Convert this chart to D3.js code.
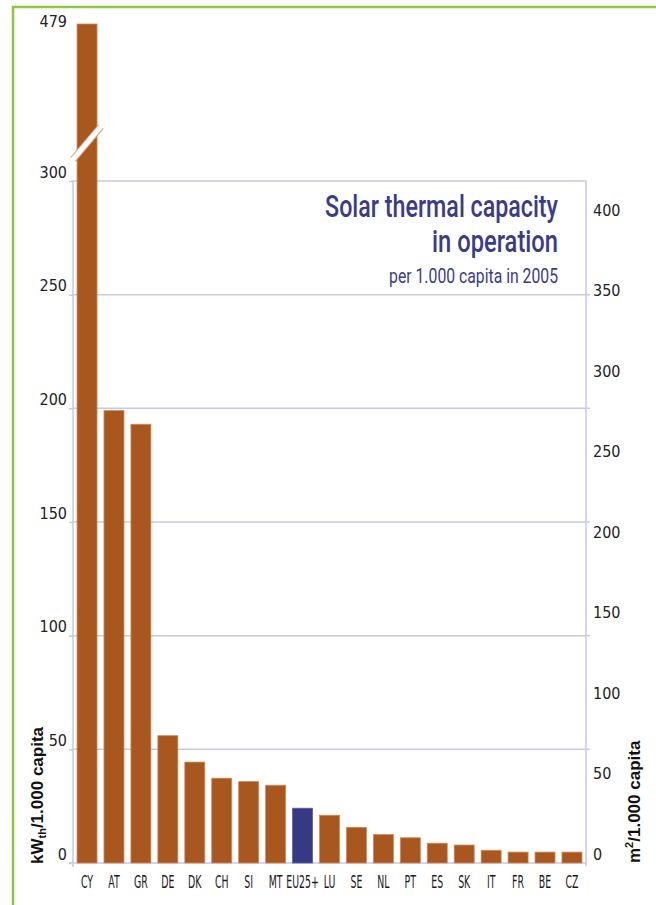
<!DOCTYPE html>
<html>
<head>
<meta charset="utf-8">
<script src="https://cdn.jsdelivr.net/npm/d3@7"></script>
<style>
  html, body { margin: 0; padding: 0; background: #fff; }
  svg { display: block; }
  .cond { font-family: "Liberation Sans Narrow", "DejaVu Sans Condensed", "Arial Narrow", sans-serif; }
  .ttl { font-family: Roboto, "DejaVu Sans Condensed", sans-serif; font-weight: 500; }
  .sub { font-family: Roboto, "DejaVu Sans Condensed", sans-serif; font-weight: 400; }
  .bold { font-family: "Liberation Sans", Arial, sans-serif; font-weight: bold; }
</style>
</head>
<body>
<svg id="chart" width="656" height="905"></svg>
<script>
// ---- data ----
const categories = ["CY","AT","GR","DE","DK","CH","SI","MT","EU25+","LU","SE","NL","PT","ES","SK","IT","FR","BE","CZ"];
const kwValues   = [479, 199, 193, 56, 44.4, 37.3, 35.8, 34.2, 24.1, 21.0, 15.7, 12.5, 11.1, 8.7, 7.9, 5.6, 4.8, 4.8, 4.8];
const highlighted = ["EU25+"];
const leftTicks  = [0, 50, 100, 150, 200, 250, 300];
const rightTicks = [0, 50, 100, 150, 200, 250, 300, 350, 400];
const topLabel   = 479;
const titleLines = ["Solar thermal capacity", "in operation"];
const subtitle   = "per 1.000 capita in 2005";
const m2ToKw = 0.708;   // right axis conversion (m² -> kWth)
const breakAt = 344;    // position of the axis break drawn on the CY bar

// ---- layout ----
const svg = d3.select("#chart");
const L = 73, R = 586, T = 181, B = 863, TOP = 24;
const barColor = "#A8571F", hiColor = "#363A82", gridColor = "#C9C9E3", textColor = "#222";

const x = d3.scaleBand().domain(categories).range([L, R]).paddingInner(0.258).paddingOuter(0.15);
const y = d3.scaleLinear().domain([0, 300, topLabel]).range([B, T, TOP]);
const y2 = d3.scaleLinear().domain([0, 400]).range([B, y(400 * m2ToKw)]);

// green frame
svg.append("path").attr("d", "M13,905 V7 H656").attr("fill", "none")
  .attr("stroke", "#8DC63F").attr("stroke-width", 2.5);

// gridlines
svg.append("g").selectAll("line").data(leftTicks.filter(d => d > 0 && d < 300)).join("line")
  .attr("x1", L).attr("x2", R + 4).attr("y1", d => y(d)).attr("y2", d => y(d))
  .attr("stroke", gridColor).attr("stroke-width", 1.5);
// box
svg.append("path").attr("d", `M${L},${B + 4} V${T} H${R} V${B + 3}`).attr("fill", "none")
  .attr("stroke", gridColor).attr("stroke-width", 1.5);
svg.append("line").attr("x1", L - 4).attr("x2", R).attr("y1", B).attr("y2", B)
  .attr("stroke", gridColor).attr("stroke-width", 1.5);

// left axis
const la = svg.append("g").attr("transform", `translate(${L},0)`)
  .call(d3.axisLeft(y).tickValues(leftTicks).tickSizeOuter(0).tickSizeInner(4).tickPadding(2));
la.select(".domain").remove();
la.selectAll(".tick line").attr("stroke", gridColor).attr("stroke-width", 1.5);
la.selectAll(".tick text").attr("class", "cond").attr("font-size", 16).attr("fill", textColor)
  .attr("y", -9);
// 479 label
svg.append("text").attr("class", "cond").attr("x", L - 6).attr("y", y(topLabel) - 2)
  .attr("dy", "0.32em").attr("text-anchor", "end").attr("font-size", 16).attr("fill", textColor)
  .text(topLabel);

// right axis
const ra = svg.append("g").attr("transform", `translate(${R},0)`)
  .call(d3.axisRight(y2).tickValues(rightTicks).tickSize(0).tickPadding(7));
ra.select(".domain").remove();
ra.selectAll(".tick text").attr("class", "cond").attr("font-size", 16).attr("fill", textColor)
  .attr("y", -9);

// bars
svg.append("g").selectAll("rect").data(categories).join("rect")
  .attr("x", d => x(d)).attr("width", x.bandwidth())
  .attr("y", (d, i) => y(kwValues[i])).attr("height", (d, i) => B - y(kwValues[i]))
  .attr("fill", d => highlighted.includes(d) ? hiColor : barColor)
  .attr("stroke", d => highlighted.includes(d) ? "#5a5ea0" : "#D08A5C").attr("stroke-width", 0.8);

// axis break slash on the first bar
const bx0 = x(categories[0]) - 4, bx1 = x(categories[0]) + x.bandwidth() + 4, by = y(breakAt);
svg.append("line").attr("x1", bx0).attr("y1", by + 17).attr("x2", bx1).attr("y2", by - 16)
  .attr("stroke", "#D9A07A").attr("stroke-width", 7);
svg.append("line").attr("x1", bx0 - 1).attr("y1", by + 18.2).attr("x2", bx1 + 1).attr("y2", by - 17.2)
  .attr("stroke", "#fff").attr("stroke-width", 5);

// x labels
svg.append("g").selectAll("text").data(categories).join("text")
  .attr("class", "cond").attr("font-size", 18).attr("fill", "#1a1a1a").attr("text-anchor", "middle")
  .attr("transform", d => `translate(${x(d) + x.bandwidth() / 2},${B + 25}) scale(0.58,1)`)
  .text(d => d);

// title
function fitted(txt, xr, yb, size, width, color, cls) {
  const g = svg.append("g").attr("transform", `translate(${xr},${yb})`);
  const t = g.append("text").attr("class", cls).attr("font-size", size).attr("fill", color)
    .attr("text-anchor", "end").text(txt);
  const w = t.node().getComputedTextLength();
  t.attr("transform", `scale(${width / w},1)`);
}
const titleColor = "#3A3C85";
fitted(titleLines[0], 558, 217, 32, 233, titleColor, "ttl");
fitted(titleLines[1], 558, 252, 32, 126, titleColor, "ttl");
fitted(subtitle, 558, 283, 20, 169, titleColor, "sub");

// axis titles
const lt = svg.append("text").attr("class", "bold").attr("font-size", 17).attr("fill", "#111")
  .attr("transform", `translate(43,${B + 1}) rotate(-90)`);
lt.append("tspan").text("kW");
lt.append("tspan").attr("font-size", 11).attr("dy", 3).text("th");
lt.append("tspan").attr("dy", -3).text("/1.000 capita");

const rt = svg.append("text").attr("class", "bold").attr("font-size", 17).attr("fill", "#111")
  .attr("transform", `translate(640,${B}) rotate(-90)`);
rt.append("tspan").text("m");
rt.append("tspan").attr("font-size", 11).attr("dy", -7).text("2");
rt.append("tspan").attr("dy", 7).text("/1.000 capita");
</script>
</body>
</html>
